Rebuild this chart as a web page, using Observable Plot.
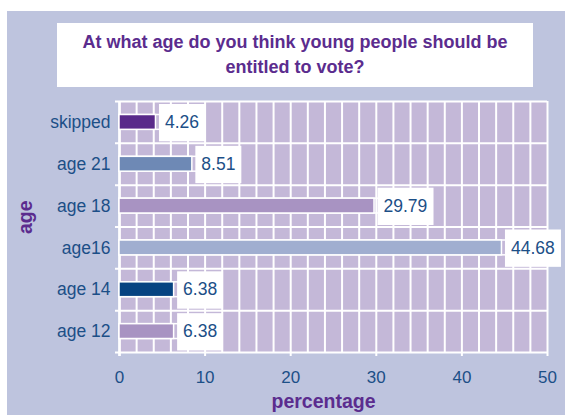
<!DOCTYPE html>
<html>
<head>
<meta charset="utf-8">
<script src="https://cdn.jsdelivr.net/npm/d3@7"></script>
<script src="https://cdn.jsdelivr.net/npm/@observablehq/plot@0.6"></script>
<style>
  body { margin: 0; background: #fff; font-family: "Liberation Sans", Arial, sans-serif; }
  #wrap { position: relative; width: 565px; height: 415px; overflow: hidden; }
  #panel { position: absolute; left: 7px; top: 11px; width: 558px; height: 404px; background: #bec4de; }
  #chart { position: absolute; left: 0; top: 0; }
  #title {
    position: absolute; left: 57px; top: 23px; width: 476px; height: 64px;
    background: #fff; color: #5b2c8e; font-weight: bold; font-size: 18px;
    line-height: 25px; text-align: center;
    display: flex; align-items: center; justify-content: center;
  }
</style>
</head>
<body>
<div id="wrap">
  <div id="panel"></div>
  <div id="chart"></div>
  <div id="title"><div>At what age do you think young people should be<br>entitled to vote?</div></div>
</div>
<script>
// Survey answers, listed top to bottom
const categories = ["skipped", "age 21", "age 18", "age16", "age 14", "age 12"];
const values = [4.26, 8.51, 29.79, 44.68, 6.38, 6.38];
const barColors = ["#592a8a", "#6e89b5", "#a893c2", "#a0aed0", "#064381", "#a893c2"];
const xTicks = [0, 10, 20, 30, 40, 50];
const xTitle = "percentage";
const yTitle = "age";

const textBlue = "#1c4f87";
const titlePurple = "#5b2c8e";
const tileFill = "#c4b8d8";

const rows = categories.map((category, i) => ({
  category,
  index: i,
  value: values[i],
  color: barColors[i],
  label: values[i].toFixed(2)
}));

const gridX = d3.range(0, 51, 2);           // vertical grid every 2 %
const bandEdges = d3.range(0, categories.length + 1);
const bandY1 = d => d.index;
const bandY2 = d => d.index + 1;
const bandMid = d => d.index + 0.5;

// white value box behind each label, sized by its digit count
const labelBoxes = rows.map(d => Plot.rect([d], {
  x1: "value", x2: "value", y1: bandY1, y2: bandY2,
  insetTop: 3, insetBottom: 1.5, insetLeft: 3.5,
  insetRight: -(3.5 + d.label.length * 10 + 6),
  fill: "white"
}));

const chart = Plot.plot({
  width: 565,
  height: 415,
  marginLeft: 119,
  marginRight: 18,
  marginTop: 101,
  marginBottom: 63,
  style: { background: "transparent", fontFamily: "'Liberation Sans', Arial, sans-serif", overflow: "visible" },
  x: { domain: [0, 50], axis: null },
  y: { domain: [0, categories.length], reverse: true, axis: null },
  marks: [
    Plot.frame({ fill: tileFill, stroke: null }),
    Plot.ruleX(gridX, { stroke: "white", strokeWidth: 2 }),
    Plot.ruleY(bandEdges, { x1: 0, x2: 50, insetLeft: -4, stroke: "white", strokeWidth: 2 }),
    // axis line and x ticks reaching below the frame
    Plot.ruleX([0], { y1: 0, y2: categories.length, insetBottom: -4, stroke: "white", strokeWidth: 2.5 }),
    Plot.ruleX(xTicks, { y1: categories.length, y2: categories.length, insetBottom: -4, stroke: "white", strokeWidth: 2 }),
    // white lane outline running from the axis to the value box
    Plot.rect(rows, {
      x1: 0, x2: "value", y1: bandY1, y2: bandY2,
      insetTop: 13.5, insetBottom: 13.5, insetRight: -5,
      fill: "none", stroke: "white", strokeWidth: 1.5
    }),
    Plot.rect(rows, {
      x1: 0, x2: "value", y1: bandY1, y2: bandY2,
      insetTop: 13.5, insetBottom: 13.5,
      fill: "color", stroke: "white", strokeWidth: 1.5
    }),
    ...labelBoxes,
    Plot.text(rows, {
      x: "value", y: bandMid, text: "label",
      textAnchor: "start", lineAnchor: "middle", dx: 9, dy: 0,
      fill: textBlue, fontSize: 17.5
    }),
    // category labels
    Plot.text(rows, {
      y: bandMid, text: "category", frameAnchor: "left",
      textAnchor: "end", lineAnchor: "middle", dx: -9,
      fill: textBlue, fontSize: 17.5
    }),
    // x tick labels
    Plot.text(xTicks, {
      x: d => d, text: d => String(d), frameAnchor: "bottom",
      lineAnchor: "middle", dy: 25, fill: textBlue, fontSize: 17
    }),
    // axis titles
    Plot.text([xTitle], {
      text: d => d, frameAnchor: "bottom", lineAnchor: "middle",
      dx: -10, dy: 49, fill: titlePurple, fontSize: 19.5, fontWeight: "bold"
    }),
    Plot.text([yTitle], {
      text: d => d, frameAnchor: "left", rotate: -90, lineAnchor: "middle",
      dx: -94, dy: 7, fill: titlePurple, fontSize: 19.5, fontWeight: "bold"
    })
  ]
});

document.getElementById("chart").appendChild(chart);
</script>
</body>
</html>
